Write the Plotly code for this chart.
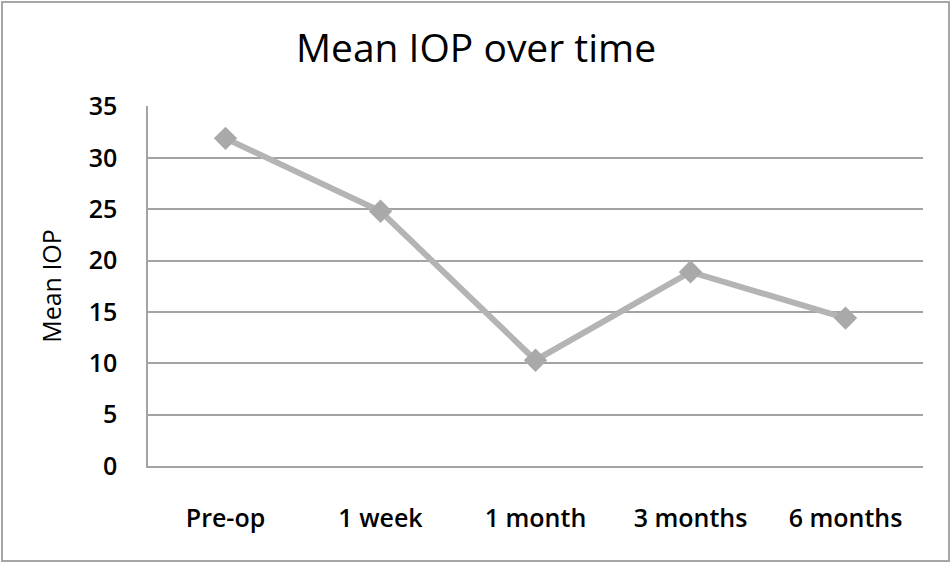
import plotly.graph_objects as go

# data
categories = ["Pre-op", "1 week", "1 month", "3 months", "6 months"]
mean_iop = [31.9, 24.8, 10.3, 18.9, 14.4]
y_ticks = [0, 5, 10, 15, 20, 25, 30, 35]

W, H = 952, 563
L, R, T, B = 148, 29, 106, 97

fig = go.Figure()
fig.add_trace(go.Scatter(
    x=categories, y=mean_iop, mode="lines+markers",
    line=dict(color="#b4b4b4", width=6),
    marker=dict(symbol="diamond", size=18, color="#a9a9a9"),
    showlegend=False,
))

grey = "#a3a3a3"
fig.update_layout(
    width=W, height=H,
    margin=dict(l=L, r=R, t=T, b=B),
    paper_bgcolor="white", plot_bgcolor="white",
    font=dict(family="Open Sans", color="black"),
    title=dict(text="Mean IOP over time", x=0.5, xanchor="center",
               y=1 - 48 / H, yanchor="middle", yref="container",
               font=dict(size=39, family="Open Sans", weight=500)),
)
fig.update_xaxes(
    range=[-0.5, len(categories) - 0.5],
    showline=True, linecolor=grey, linewidth=1.5,
    showgrid=False, ticks="", ticklabelstandoff=29,
    tickfont=dict(size=25, weight=600),
)
fig.update_yaxes(
    range=[0, 35.05], tickvals=y_ticks, showline=True, linecolor=grey, linewidth=1.5,
    showgrid=True, gridcolor=grey, gridwidth=1.5, ticks="", ticklabelstandoff=24,
    tickfont=dict(size=25, weight=600),
    title=dict(text="Mean IOP", standoff=20, font=dict(size=25, weight=500)),
    zeroline=False,
)

# outer chart border
pw, ph = W - L - R, H - T - B
fig.add_shape(type="rect", xref="paper", yref="paper",
              x0=(2 - L) / pw, x1=(W - 3 - L) / pw,
              y0=-(H - 2 - T - ph) / ph, y1=1 + (T - 2) / ph,
              line=dict(color="#a6a6a6", width=2), layer="below")

fig.write_html("out.html", config={"displayModeBar": False},
               post_script="document.body.style.margin='0';")
